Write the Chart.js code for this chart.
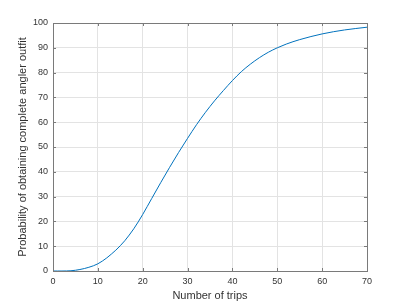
<!DOCTYPE html>
<html>
<head>
<meta charset="utf-8">
<script src="https://cdn.jsdelivr.net/npm/chart.js"></script>
<style>
    html, body { margin: 0; padding: 0; background: #fff; }
    #chart { display: block; }
</style>
</head>
<body>
<canvas id="chart" width="405" height="304"></canvas>
<script>
// values
const trips = [0, 1, 2, 3, 4, 5, 6, 7, 8, 9, 10, 11, 12, 13, 14, 15, 16, 17, 18, 19, 20,
    22, 24, 26, 28, 30, 32, 34, 36, 38, 40, 42, 44, 46, 48, 50, 52, 55, 60, 65, 70];
const probability = [0, 0, 0, 0.02, 0.1, 0.3, 0.6, 1.0, 1.5, 2.1, 2.9, 4.0, 5.3, 6.8, 8.4, 10.2, 12.2, 14.5, 17.0, 19.8, 22.8,
    29.2, 35.6, 41.8, 47.8, 53.5, 59.0, 64.0, 68.6, 72.8, 76.8, 80.4, 83.4, 86.0, 88.2, 90.0, 91.5, 93.3, 95.6, 97.2, 98.3];
const xTicks = [0, 10, 20, 30, 40, 50, 60, 70];
const yTicks = [0, 10, 20, 30, 40, 50, 60, 70, 80, 90, 100];

const xLabel = 'Number of trips';
const yLabel = 'Probability of obtaining complete angler outfit';

const textColor = '#333333';
const boxColor = '#7a7a7a';
const gridColor = '#e3e3e3';

// matlab style box with inward ticks on all sides
const boxPlugin = {
    id: 'box',
    afterDraw(chart) {
        const { ctx, chartArea: a, scales } = chart;
        ctx.save();
        ctx.strokeStyle = boxColor;
        ctx.lineWidth = 1;
        ctx.beginPath();
        xTicks.forEach(v => {
            const px = Math.round(scales.x.getPixelForValue(v)) + 0.5;
            ctx.moveTo(px, a.bottom); ctx.lineTo(px, a.bottom - 3);
            ctx.moveTo(px, a.top); ctx.lineTo(px, a.top + 3);
        });
        yTicks.forEach(v => {
            const py = Math.round(scales.y.getPixelForValue(v)) + 0.5;
            ctx.moveTo(a.left, py); ctx.lineTo(a.left + 3, py);
            ctx.moveTo(a.right, py); ctx.lineTo(a.right - 3, py);
        });
        ctx.stroke();
        ctx.strokeRect(Math.round(a.left) + 0.5, Math.round(a.top) + 0.5,
            Math.round(a.right - a.left), Math.round(a.bottom - a.top));
        ctx.restore();
    }
};

const ctx = document.getElementById('chart').getContext('2d');
new Chart(ctx, {
    type: 'line',
    data: {
        datasets: [{
            data: trips.map((t, i) => ({ x: t, y: probability[i] })),
            borderColor: '#0072BD',
            borderWidth: 1,
            pointRadius: 0,
            fill: false,
            cubicInterpolationMode: 'monotone'
        }]
    },
    options: {
        responsive: false,
        animation: false,
        layout: { padding: { left: 0, right: 38, top: 23, bottom: 0 } },
        plugins: {
            legend: { display: false },
            tooltip: { enabled: false }
        },
        scales: {
            x: {
                type: 'linear',
                min: 0,
                max: 70,
                afterFit: (s) => { s.height = 33; },
                afterBuildTicks: (s) => { s.ticks = xTicks.map(v => ({ value: v })); },
                grid: { color: gridColor, drawTicks: false },
                border: { display: false },
                ticks: {
                    color: textColor,
                    padding: 5,
                    maxRotation: 0,
                    font: { family: 'Liberation Sans, Arial, sans-serif', size: 9 }
                },
                title: {
                    display: true,
                    text: xLabel,
                    color: textColor,
                    padding: { top: 0, bottom: 1 },
                    font: { family: 'Liberation Sans, Arial, sans-serif', size: 11 }
                }
            },
            y: {
                min: 0,
                max: 100,
                afterFit: (s) => { s.width = 53; },
                afterBuildTicks: (s) => { s.ticks = yTicks.map(v => ({ value: v })); },
                grid: { color: gridColor, drawTicks: false },
                border: { display: false },
                ticks: {
                    color: textColor,
                    padding: 5,
                    font: { family: 'Liberation Sans, Arial, sans-serif', size: 9 }
                },
                title: {
                    display: true,
                    text: yLabel,
                    color: textColor,
                    padding: { top: 16, bottom: 0 },
                    font: { family: 'Liberation Sans, Arial, sans-serif', size: 11 }
                }
            }
        }
    },
    plugins: [boxPlugin]
});
</script>
</body>
</html>
